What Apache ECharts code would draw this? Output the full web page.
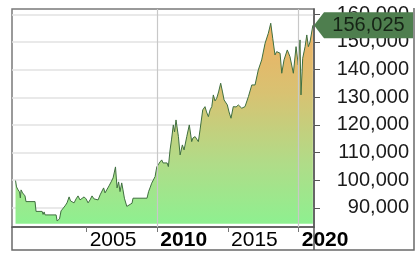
<!DOCTYPE html>
<html>
<head>
<meta charset="utf-8">
<script src="https://cdn.jsdelivr.net/npm/echarts@6/dist/echarts.min.js"></script>
<style>html,body{margin:0;padding:0;background:#fff}#c{width:420px;height:256px}</style>
</head>
<body>
<div id="c"></div>
<script>
// Decimal years
const years = [1999.97,2000.04,2000.15,2000.25,2000.31,2000.36,2000.47,2000.57,2000.64,2000.71,2001.35,2001.42,2001.85,2001.92,2001.99,2002.06,2002.84,2002.91,2003.01,2003.08,2003.19,2003.33,2003.47,2003.61,2003.76,2003.86,2003.97,2004.11,2004.25,2004.39,2004.53,2004.67,2004.82,2004.96,2005.10,2005.24,2005.38,2005.52,2005.66,2005.81,2005.95,2006.09,2006.20,2006.30,2006.44,2006.58,2006.73,2006.87,2007.04,2007.15,2007.26,2007.36,2007.48,2007.57,2007.67,2007.79,2007.84,2008.21,2008.28,2009.27,2009.38,2009.48,2009.60,2009.73,2009.84,2009.96,2010.07,2010.19,2010.31,2010.40,2010.54,2010.69,2010.78,2010.90,2011.00,2011.13,2011.22,2011.32,2011.49,2011.61,2011.77,2011.89,2012.08,2012.26,2012.43,2012.52,2012.67,2012.90,2013.02,2013.21,2013.37,2013.48,2013.61,2013.73,2013.85,2013.96,2014.08,2014.20,2014.33,2014.48,2014.61,2014.72,2014.95,2015.07,2015.21,2015.37,2015.57,2015.73,2015.97,2016.20,2016.44,2016.68,2016.91,2017.14,2017.38,2017.62,2017.85,2018.02,2018.16,2018.32,2018.44,2018.68,2018.80,2018.96,2019.19,2019.38,2019.62,2019.81,2019.97,2020.09,2020.16,2020.28,2020.45,2020.57,2020.68,2020.80,2021.00];
const prices = [99870,97590,96510,95780,93610,96510,95420,95780,94340,92280,92280,88740,88740,87650,88550,87470,87470,85300,84580,86020,88920,89640,90720,91810,93980,92530,93250,91810,93250,94340,92890,92530,93980,93250,91810,92890,94340,93250,93610,92890,94700,93980,97230,95420,96140,97950,99400,100840,104820,97230,99400,95890,99040,96510,93510,93610,90540,91700,93510,93510,95890,97230,98930,99400,101310,104820,104350,106620,107350,106260,106730,106260,104930,110960,114580,120000,117470,121800,115770,109150,112770,110960,115770,120000,113960,115300,115770,113960,118190,125420,126610,124690,122990,125420,126610,130840,128670,129650,131920,135070,131920,129030,127220,124690,122420,126610,126500,127220,126030,126610,130220,134450,134450,139870,143490,149520,153140,156750,151330,145290,146490,145910,138680,143490,147100,144680,138680,148290,141680,150720,130840,144100,148290,152520,148290,149990,156025];
const xTickYears = [2005, 2010, 2015, 2020];
const xGridYears = [2010, 2020];
const yTickValues = [90000, 100000, 110000, 120000, 130000, 140000, 150000, 160000];
const xMin = 1999.72, xMax = 2021.08;
const yMin = 83100, yMax = 161900;
const areaBase = 84300;

const lastValue = prices[prices.length - 1];
const FONT = "'Liberation Sans', Arial, sans-serif";

const chart = echarts.init(document.getElementById('c'), null, {renderer: 'canvas'});
chart.setOption({
  animation: false,
  backgroundColor: '#fff',
  textStyle: {fontFamily: FONT},
  grid: {left: 12, top: 9, right: 106, bottom: 29, show: true, borderColor: '#7a7a7a', borderWidth: 1.5, backgroundColor: 'transparent'},
  xAxis: {
    type: 'value', min: xMin, max: xMax,
    axisLine: {show: true, onZero: false, lineStyle: {color: '#555', width: 1.5}},
    axisTick: {show: true, length: 5, customValues: xTickYears, lineStyle: {color: '#777', width: 1}},
    axisLabel: {
      customValues: xTickYears, align: 'left', margin: 3, padding: [0, 0, 0, 3],
      formatter: v => (xGridYears.indexOf(v) >= 0 ? '{b|' + v + '}' : '{n|' + v + '}'),
      rich: {
        b: {fontWeight: 'bold', fontSize: 21, color: '#000', fontFamily: FONT},
        n: {fontSize: 21, color: '#000', fontFamily: FONT}
      }
    },
    splitLine: {show: false}
  },
  yAxis: {
    type: 'value', position: 'right', min: yMin, max: yMax,
    splitNumber: 8, minInterval: 10000, maxInterval: 10000,
    axisLine: {show: true, lineStyle: {color: '#555', width: 1.5}},
    axisTick: {show: true, inside: false, length: 6, customValues: yTickValues, lineStyle: {color: '#555'}},
    axisLabel: {
      customValues: yTickValues, align: 'right', margin: 95,
      fontSize: 20, color: '#1a1a1a', fontFamily: FONT,
      formatter: v => v.toLocaleString('en-US')
    },
    splitLine: {show: true, lineStyle: {color: '#e2e2e2', width: 1.5}}
  },
  series: [{
    type: 'line',
    data: years.map((y, i) => [y, prices[i]]),
    showSymbol: false,
    silent: true,
    lineStyle: {color: '#3f6f3f', width: 1},
    areaStyle: {
      origin: areaBase,
      color: new echarts.graphic.LinearGradient(0, 0, 0, 1, [
        {offset: 0, color: '#f0b062'},
        {offset: 0.35, color: '#d8c272'},
        {offset: 0.7, color: '#b0dc88'},
        {offset: 1, color: '#8ef090'}
      ]),
      opacity: 1
    },
    markLine: {
      silent: true, symbol: 'none', label: {show: false},
      lineStyle: {color: '#c8c8c8', width: 1.2, type: 'solid'},
      data: xGridYears.map(y => ({xAxis: y}))
    },
    markPoint: {
      silent: true,
      symbol: 'path://M0,13L10,0L99,0L99,26L10,26Z',
      symbolSize: [99, 26],
      symbolOffset: [49.5, 0],
      itemStyle: {color: '#4e7e4e'},
      label: {
        show: true, position: 'inside', offset: [5, 0],
        fontSize: 20, color: '#162416', fontFamily: FONT,
        formatter: p => p.value.toLocaleString('en-US')
      },
      data: [{coord: [xMax, lastValue], value: lastValue}]
    }
  }],
  graphic: [
    {type: 'polyline', silent: true, shape: {points: [[12, 227], [12, 250], [414, 250], [414, 8]]}, style: {stroke: '#6a6a6a', lineWidth: 1.5, fill: null}},
    {type: 'line', silent: true, shape: {x1: 314, y1: 227, x2: 314, y2: 250}, style: {stroke: '#555', lineWidth: 1.5}}
  ]
});
</script>
</body>
</html>
